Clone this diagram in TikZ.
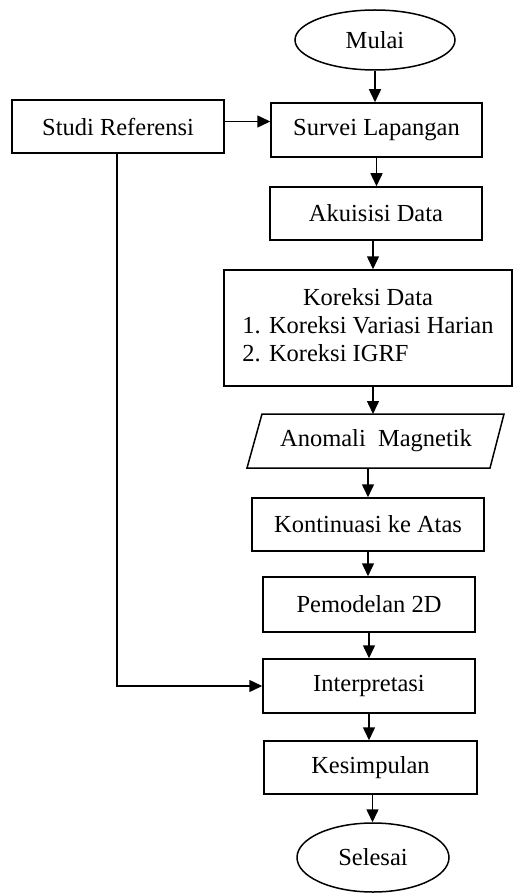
\documentclass[tikz,border=0pt]{standalone}
\usepackage{fontspec}
\setmainfont{Liberation Serif}
\usetikzlibrary{shapes.geometric,arrows.meta}
\begin{document}
\begin{tikzpicture}[x=1pt,y=-1pt,
  every node/.style={font=\fontsize{24.5}{28}\selectfont, inner sep=0pt},
  box/.style={draw, line width=1.5pt, rectangle},
  oval/.style={draw, line width=1.5pt, ellipse},
  arr/.style={line width=1.5pt, -{Triangle[length=13pt,width=12pt]}}]
\useasboundingbox (0,0) rectangle (515,893);
\node[oval, minimum width=160pt, minimum height=60pt] (mulai) at (375,40) {Mulai};
\node[box, minimum width=211pt, minimum height=54pt] (survei) at (376.5,130) {Survei Lapangan};
\node[box, minimum width=212pt, minimum height=53pt] (studi) at (118,126.5) {Studi Referensi};
\node[box, minimum width=212pt, minimum height=53pt] (akuisisi) at (376,213.5) {Akuisisi Data};
\node[box, minimum width=288pt, minimum height=116pt] (koreksi) at (368,328)
  {\begin{tabular}{@{}l@{}}\multicolumn{1}{@{}c@{}}{Koreksi Data}\\ 1. Koreksi Variasi Harian\\ 2. Koreksi IGRF\end{tabular}};
\draw[line width=1.5pt] (262,414) -- (504,414) -- (490,468) -- (247,468) -- cycle;
\node (anomali) at (376,441) {Anomali\ \ Magnetik};
\coordinate (anomtop) at (373,414);
\coordinate (anombot) at (368,468);
\node[box, minimum width=232pt, minimum height=53pt] (kontinuasi) at (368,524.5) {Kontinuasi ke Atas};
\node[box, minimum width=212pt, minimum height=55pt] (pemodelan) at (369,604.5) {Pemodelan 2D};
\node[box, minimum width=212pt, minimum height=54pt] (interp) at (369,686) {Interpretasi};
\node[box, minimum width=213pt, minimum height=53pt] (kesimpulan) at (370.5,767.5) {Kesimpulan};
\node[oval, minimum width=152pt, minimum height=69pt] (selesai) at (373,857.5) {Selesai};
% connectors
\draw[arr] (mulai.south) -- (mulai.south |- survei.north);
\draw[arr] (survei.south) -- (survei.south |- akuisisi.north);
\draw[arr] ([xshift=-3pt]akuisisi.south) -- ([xshift=-3pt]akuisisi.south |- koreksi.north);
\draw[arr] ([xshift=5pt]koreksi.south) -- (anomtop);
\draw[arr] (anombot) -- (anombot |- kontinuasi.north);
\draw[arr] (kontinuasi.south) -- (kontinuasi.south |- pemodelan.north);
\draw[arr] (pemodelan.south) -- (pemodelan.south |- interp.north);
\draw[arr] (interp.south) -- (interp.south |- kesimpulan.north);
\draw[arr] ([xshift=2pt]kesimpulan.south) -- ([xshift=2pt]kesimpulan.south |- selesai.north);
\draw[arr] ([yshift=5pt]studi.east) -- ([yshift=5pt]studi.east -| survei.west);
\draw[arr] ([xshift=-1pt]studi.south) |- (interp.west);
\end{tikzpicture}
\end{document}
